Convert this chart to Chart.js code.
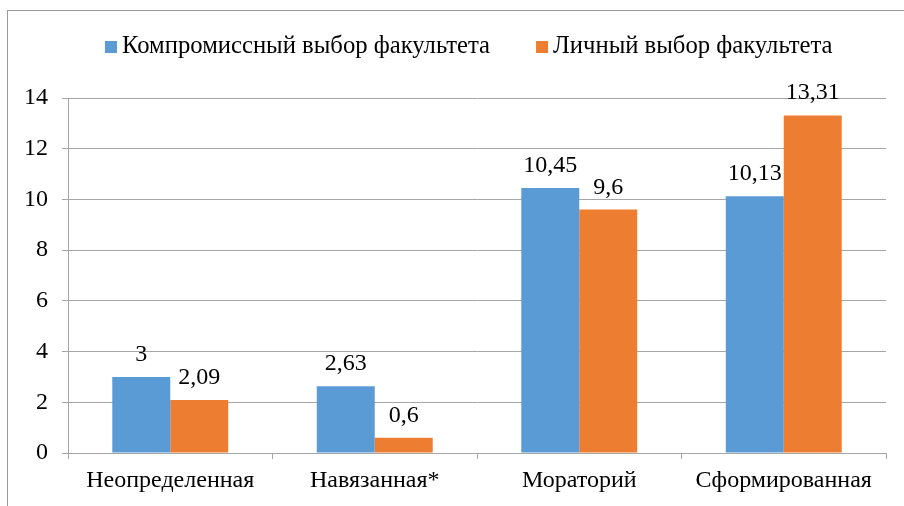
<!DOCTYPE html>
<html>
<head>
<meta charset="utf-8">
<script src="https://cdn.jsdelivr.net/npm/chart.js@4.4.0/dist/chart.umd.min.js"></script>
<style>
    html, body { margin: 0; padding: 0; background: #ffffff; }
    #wrap { width: 904px; height: 506px; position: relative; }
</style>
</head>
<body>
<div id="wrap"><canvas id="grafico" width="904" height="506"></canvas></div>
<script>
// Datos del gráfico
const categorias = ['Неопределенная', 'Навязанная*', 'Мораторий', 'Сформированная'];
const compromisso = [3, 2.63, 10.45, 10.13];
const personal = [2.09, 0.6, 9.6, 13.31];
const nombresSeries = ['Компромиссный выбор факультета', 'Личный выбор факультета'];
const colores = ['#5B9BD5', '#ED7D31'];
const ticksY = [0, 2, 4, 6, 8, 10, 12, 14];

const FUENTE = "'Liberation Serif', 'Times New Roman', serif";
const GRIS = '#a6a6a6';

// Marco del gráfico (estilo Excel)
const marco = {
    id: 'marco',
    beforeDraw(chart) {
        const ctx = chart.ctx;
        ctx.save();
        ctx.strokeStyle = '#9a9a9a';
        ctx.lineWidth = 1;
        ctx.strokeRect(7.5, 10.5, 1000, 1000);
        ctx.restore();
    }
};

// Leyenda propia: cuadrado pegado al texto, como en Excel
const leyenda = {
    id: 'leyenda',
    afterDraw(chart) {
        const ctx = chart.ctx;
        ctx.save();
        ctx.font = '24.7px ' + FUENTE;
        ctx.textBaseline = 'middle';
        ctx.textAlign = 'left';
        let x = 105;
        const y = 47;
        chart.data.datasets.forEach(ds => {
            ctx.fillStyle = ds.backgroundColor;
            ctx.fillRect(x, y - 6, 12, 12);
            ctx.fillStyle = '#000';
            ctx.fillText(ds.label, x + 17, y);
            x += 17 + ctx.measureText(ds.label).width + 46;
        });
        ctx.restore();
    }
};

// Etiquetas de valores encima de las barras
const etiquetas = {
    id: 'etiquetas',
    afterDatasetsDraw(chart) {
        const ctx = chart.ctx;
        ctx.save();
        ctx.font = '24px ' + FUENTE;
        ctx.fillStyle = '#000';
        ctx.textAlign = 'center';
        ctx.textBaseline = 'alphabetic';
        chart.data.datasets.forEach((ds, i) => {
            chart.getDatasetMeta(i).data.forEach((bar, j) => {
                const texto = String(ds.data[j]).replace('.', ',');
                ctx.fillText(texto, bar.x, bar.y - 16);
            });
        });
        ctx.restore();
    }
};

new Chart(document.getElementById('grafico').getContext('2d'), {
    type: 'bar',
    data: {
        labels: categorias,
        datasets: [
            { label: nombresSeries[0], data: compromisso, backgroundColor: colores[0] },
            { label: nombresSeries[1], data: personal, backgroundColor: colores[1] }
        ]
    },
    options: {
        responsive: false,
        animation: false,
        layout: { padding: { top: 98, right: 18, left: 0, bottom: 0 } },
        datasets: {
            bar: { categoryPercentage: 0.567, barPercentage: 1.0 }
        },
        plugins: {
            legend: { display: false },
            tooltip: { enabled: false }
        },
        scales: {
            x: {
                grid: { offset: true, drawOnChartArea: false, color: GRIS, tickLength: 6 },
                border: { color: GRIS },
                ticks: { color: '#000', padding: 7, font: { family: FUENTE, size: 24 } },
                afterFit: function(scale) { scale.height = 53; }
            },
            y: {
                min: 0,
                max: 14,
                afterBuildTicks: function(scale) { scale.ticks = ticksY.map(v => ({ value: v })); },
                grid: { color: GRIS, tickLength: 6 },
                border: { color: GRIS },
                ticks: { color: '#000', padding: 14, font: { family: FUENTE, size: 24 } },
                afterFit: function(scale) { scale.width = 68; }
            }
        }
    },
    plugins: [marco, leyenda, etiquetas]
});
</script>
</body>
</html>
